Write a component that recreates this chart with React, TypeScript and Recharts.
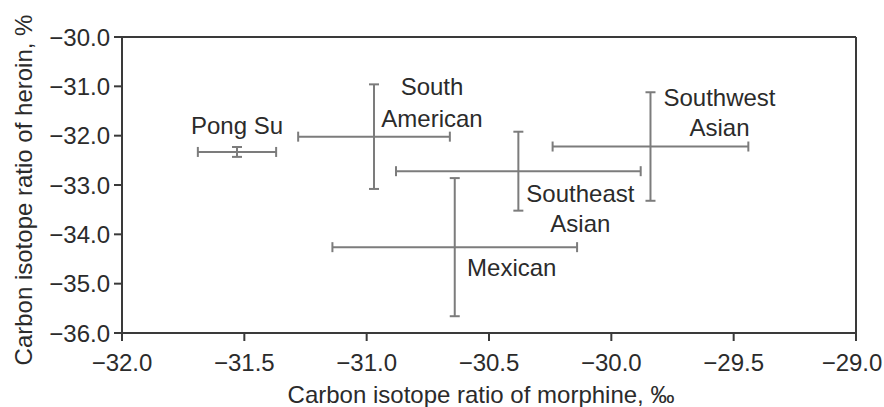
import React from 'react';
import {
  ErrorBar,
  LabelList,
  ReferenceLine,
  Scatter,
  ScatterChart,
  XAxis,
  YAxis,
} from 'recharts';

// Carbon isotope ratios (per mil) by heroin source, mean ± spread
const groups = ['Pong Su', 'South American', 'Southeast Asian', 'Southwest Asian', 'Mexican'];
const groupLines = [['Pong Su'], ['South', 'American'], ['Southeast', 'Asian'], ['Southwest', 'Asian'], ['Mexican']];
const morphine = [-31.53, -30.97, -30.38, -29.84, -30.64];
const morphineErr = [0.16, 0.31, 0.5, 0.4, 0.5];
const heroin = [-32.33, -32.02, -32.72, -32.22, -34.26];
const heroinErr = [0.1, 1.06, 0.8, 1.1, 1.4];

const xTicks = [-32, -31.5, -31, -30.5, -30, -29.5, -29];
const yTicks = [-30, -31, -32, -33, -34, -35, -36];

const W = 884;
const H = 407;
const FONT = '"Liberation Sans", Arial, sans-serif';
const TEXT = '#2b2b2b';
const AXIS = '#3a3a3a';
const BAR = '#7c7c7c';
const FS = 24;

// label placement relative to the crossing point, px (centre of each line)
const labelOffsets: { dx: number; dy: number[] }[] = [
  { dx: 0, dy: [-26] },
  { dx: 58, dy: [-50, -18] },
  { dx: 62, dy: [22, 52] },
  { dx: 69, dy: [-49, -19] },
  { dx: 57, dy: [20] },
];

const data = groups.map((g, i) => ({
  name: g,
  x: morphine[i],
  y: heroin[i],
  xErr: morphineErr[i],
  yErr: heroinErr[i],
}));

const fmt = (v: number) => v.toFixed(1).replace('-', '\u2212');

function GroupLabel(props: any) {
  const { x, y, width, height, index } = props;
  const cx = Number(x) + (Number(width) || 0) / 2;
  const cy = Number(y) + (Number(height) || 0) / 2;
  const off = labelOffsets[index];
  return (
    <g>
      {groupLines[index].map((line, k) => (
        <text
          key={k}
          x={cx + off.dx}
          y={cy + off.dy[k]}
          textAnchor="middle"
          dominantBaseline="central"
          fontFamily={FONT}
          fontSize={FS}
          fill={TEXT}
        >
          {line}
        </text>
      ))}
    </g>
  );
}

// x tick; the last label sits on the right edge, nudge it in a little
function XTick(props: any) {
  const { x, y, payload } = props;
  const last = payload.value === xTicks[xTicks.length - 1];
  return (
    <text
      x={last ? x - 4 : x}
      y={y}
      dy="0.71em"
      textAnchor="middle"
      fontFamily={FONT}
      fontSize={FS}
      fill={TEXT}
    >
      {fmt(payload.value)}
    </text>
  );
}

export default function App() {
  return (
    <div style={{ position: 'absolute', left: 0, top: 0, width: W, height: H, background: '#fff' }}>
      <ScatterChart width={W} height={H} margin={{ top: 37, right: 28, bottom: 0, left: 0 }}>
        <XAxis
          type="number"
          dataKey="x"
          domain={[-32, -29]}
          ticks={xTicks}
          height={74}
          stroke={AXIS}
          strokeWidth={2}
          tickSize={8}
          tickMargin={13}
          tick={<XTick />}
          label={{
            content: () => (
              <text x={481} y={403} textAnchor="middle" fontFamily={FONT} fontSize={FS} fill={TEXT}>
                Carbon isotope ratio of morphine, ‰
              </text>
            ),
          }}
        />
        <YAxis
          type="number"
          dataKey="y"
          domain={[-36, -30]}
          ticks={yTicks}
          tickFormatter={fmt}
          width={122}
          stroke={AXIS}
          strokeWidth={2}
          tickSize={8}
          tickMargin={4}
          tick={{ fill: TEXT, fontSize: FS, fontFamily: FONT }}
          label={{
            content: () => (
              <text
                x={32}
                y={190}
                transform="rotate(-90 32 190)"
                textAnchor="middle"
                fontFamily={FONT}
                fontSize={FS}
                fill={TEXT}
              >
                Carbon isotope ratio of heroin, %
              </text>
            ),
          }}
        />
        <ReferenceLine y={-30} stroke={AXIS} strokeWidth={2} />
        <ReferenceLine x={-29} stroke={AXIS} strokeWidth={2} />
        <Scatter data={data} isAnimationActive={false} shape={() => <g />}>
          <ErrorBar dataKey="xErr" direction="x" width={5} stroke={BAR} strokeWidth={2} isAnimationActive={false} />
          <ErrorBar dataKey="yErr" direction="y" width={5} stroke={BAR} strokeWidth={2} isAnimationActive={false} />
          <LabelList dataKey="name" content={<GroupLabel />} />
        </Scatter>
      </ScatterChart>
    </div>
  );
}
